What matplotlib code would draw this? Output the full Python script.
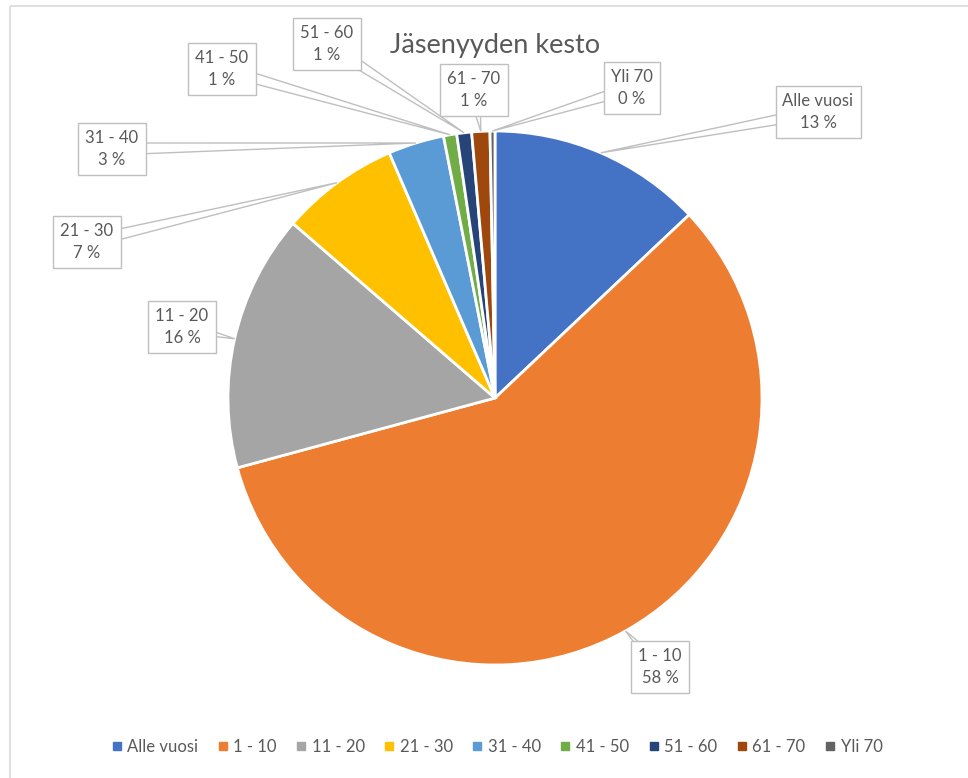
import matplotlib.pyplot as plt
import numpy as np
from matplotlib.patches import Polygon, Rectangle
from matplotlib.lines import Line2D

plt.rcParams['font.family'] = ['Lato', 'DejaVu Sans']

# data
labels = ["Alle vuosi", "1 - 10", "11 - 20", "21 - 30", "31 - 40",
          "41 - 50", "51 - 60", "61 - 70", "Yli 70"]
values = [13.0, 58.0, 15.6, 7.2, 3.4, 0.8, 0.9, 1.1, 0.3]
colors = ["#4472C4", "#ED7D31", "#A5A5A5", "#FFC000", "#5B9BD5",
          "#70AD47", "#264478", "#9E480E", "#636363"]

# callout box centres (pixels, from top-left), same order as labels
box_pos = [(818, 112), (660, 667), (182, 327), (87, 242), (112, 149),
           (222, 69), (327, 44), (474, 90), (632, 88)]

W, H = 968, 778
cx, cy, R = 495, 398, 267
txt = "#595959"

fig = plt.figure(figsize=(W / 100, H / 100), dpi=100)

# pie axes: 1 data unit = R pixels
half = 300
ax = fig.add_axes([(cx - half) / W, (H - cy - half) / H, 2 * half / W, 2 * half / H])
ax.pie(values, colors=colors, startangle=90, counterclock=False,
       wedgeprops=dict(edgecolor="white", linewidth=2))
ax.set_xlim(-half / R, half / R)
ax.set_ylim(-half / R, half / R)
ax.set_aspect("auto")
ax.axis("off")

# overlay in pixel coords
ov = fig.add_axes([0, 0, 1, 1], zorder=5)
ov.set_xlim(0, W)
ov.set_ylim(H, 0)
ov.axis("off")
ov.patch.set_alpha(0)

ov.add_patch(Rectangle((10, 6), W + 20, H + 20, fill=False, edgecolor="#D9D9D9", lw=1.2))

total = sum(values)
cum = 0
for lab, v, (bx, by) in zip(labels, values, box_pos):
    mid = (cum + v / 2) / total * 2 * np.pi
    cum += v
    axp = cx + R * np.sin(mid)
    ayp = cy - R * np.cos(mid)
    d = np.array([axp - bx, ayp - by])
    n = np.array([-d[1], d[0]]) / np.hypot(*d)
    p1 = np.array([bx, by]) + n * 6
    p2 = np.array([bx, by]) - n * 6
    ov.add_patch(Polygon([p1, (axp, ayp), p2], closed=True, facecolor="white",
                         edgecolor="#BFBFBF", lw=1.0))
    s = f"{lab}\n{round(v / total * 100)} %"
    ov.text(bx, by, s, ha="center", va="center", fontsize=12, color=txt,
            linespacing=1.45,
            bbox=dict(boxstyle="square,pad=0.42", facecolor="white", edgecolor="#BFBFBF", lw=1.0))

fig.text(495 / W, 1 - 45 / H, "Jäsenyyden kesto", ha="center", va="center",
         fontsize=19.5, color=txt)

handles = [Line2D([], [], marker="s", linestyle="", color=c, markersize=5.5) for c in colors]
fig.legend(handles, labels, loc="center", bbox_to_anchor=(497 / W, 1 - 747 / H),
           ncol=9, frameon=False, fontsize=12, labelcolor=txt, handlelength=0.6,
           handletextpad=0.35, columnspacing=1.15)

fig.savefig("out.png", dpi=100)
